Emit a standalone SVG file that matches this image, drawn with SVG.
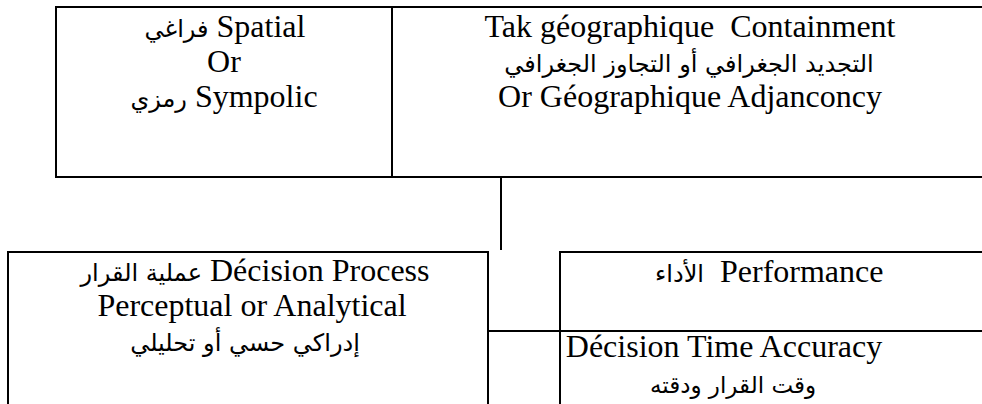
<svg xmlns="http://www.w3.org/2000/svg" width="982" height="404" viewBox="0 0 982 404">
<style>
  .box { fill: none; stroke: #000; stroke-width: 2; }
  .ln { stroke: #000; stroke-width: 2; fill: none; }
  text { font-family: "Liberation Serif", "DejaVu Sans", serif; font-size: 32px; fill: #000; white-space: pre; }
  .c { text-anchor: middle; }
  .ar { font-family: "DejaVu Sans", "Liberation Serif", sans-serif; font-size: 24px; }
</style>
<rect width="982" height="404" fill="#fff"/>
<g id="node-spatial">
  <rect class="box" x="56" y="7" width="336" height="170"/>
  <text class="c" x="225" y="37"><tspan class="ar">فراغي</tspan> Spatial</text>
  <text class="c" x="224" y="72">Or</text>
  <text class="c" x="224" y="107"><tspan class="ar">رمزي</tspan> Sympolic</text>
</g>
<g id="node-containment">
  <rect class="box" x="392" y="7" width="600" height="170"/>
  <text class="c" x="690" y="37">Tak géographique  Containment</text>
  <text class="c ar" x="689" y="72">التجديد الجغرافي أو التجاوز الجغرافي</text>
  <text class="c" x="690" y="107">Or Géographique Adjanconcy</text>
</g>
<g id="node-decision">
  <rect class="box" x="8" y="252" width="480" height="170"/>
  <text class="c" x="255" y="281"><tspan class="ar">عملية القرار</tspan> Décision Process</text>
  <text class="c" x="252" y="316">Perceptual or Analytical</text>
  <text class="c ar" x="245" y="351">إدراكي حسي أو تحليلي</text>
</g>
<g id="node-performance">
  <rect class="box" x="560" y="252" width="440" height="170"/>
  <line class="ln" x1="560" y1="331" x2="982" y2="331"/>
  <text x="655" y="282"><tspan class="ar">الأداء</tspan>  Performance</text>
  <text class="c" x="724" y="357">Décision Time Accuracy</text>
  <text class="c ar" x="733" y="393" style="font-size:23px">وقت القرار ودقته</text>
</g>
<g id="connectors">
  <line class="ln" x1="501" y1="177" x2="501" y2="250"/>
  <line class="ln" x1="488" y1="331" x2="560" y2="331"/>
</g>
</svg>
